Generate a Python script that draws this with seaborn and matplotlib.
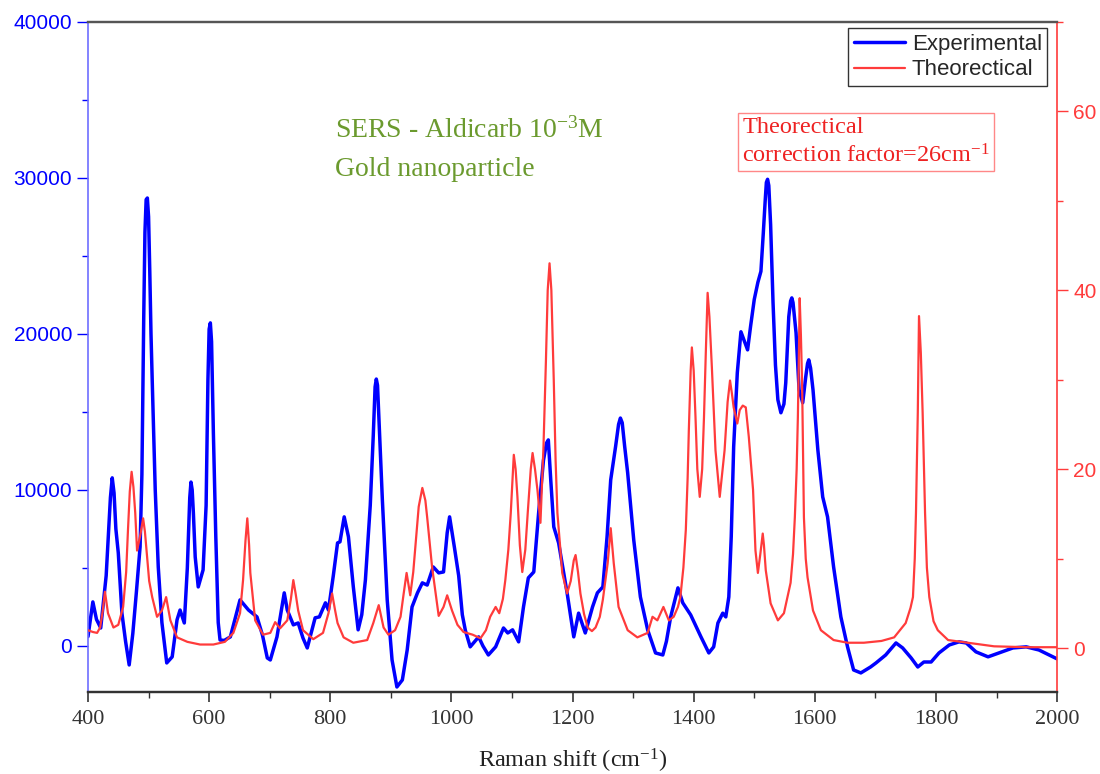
import matplotlib
matplotlib.use("Agg")
import matplotlib.pyplot as plt
from matplotlib.ticker import MultipleLocator
import pandas as pd
import seaborn as sns

# Experimental SERS spectrum (left axis)
exp_x = [400, 408, 414, 421, 430, 437, 440, 443, 446, 450, 456, 462, 468, 474, 480, 486, 489,
         492, 494, 496, 498, 500, 502, 504, 506, 511, 516, 522, 530, 539, 547, 552, 559, 564,
         568, 570, 572, 574, 577, 582, 590, 595, 598, 600, 602, 604, 607, 611, 615, 618, 625,
         635, 651, 665, 679, 688, 696, 701, 712, 724, 729, 739, 747, 755, 762, 775, 782, 792,
         797, 805, 812, 816, 823, 830, 838, 846, 852, 858, 866, 871, 874, 876, 878, 881, 886,
         894, 902, 910, 919, 927, 935, 944, 952, 960, 970, 979, 987, 993, 997, 1005, 1012,
         1018, 1023, 1031, 1045, 1052, 1061, 1073, 1086, 1093, 1101, 1111, 1119, 1127, 1136,
         1144, 1152, 1157, 1160, 1164, 1169, 1177, 1191, 1202, 1210, 1221, 1233, 1241, 1250,
         1257, 1263, 1271, 1276, 1279, 1282, 1286, 1291, 1301, 1312, 1324, 1337, 1349, 1355,
         1362, 1374, 1382, 1395, 1412, 1425, 1433, 1440, 1448, 1453, 1458, 1462, 1466, 1472,
         1478, 1484, 1489, 1494, 1500, 1506, 1511, 1515, 1518, 1520, 1522, 1524, 1527, 1531,
         1535, 1539, 1544, 1549, 1552, 1557, 1560, 1562, 1564, 1569, 1574, 1580, 1585, 1588,
         1590, 1593, 1597, 1605, 1613, 1621, 1631, 1643, 1654, 1664, 1676, 1692, 1701, 1717,
         1734, 1745, 1759, 1770, 1780, 1792, 1805, 1822, 1838, 1850, 1866, 1886, 1904, 1927,
         1949, 1970, 1993, 2000]
exp_y = [600, 2820, 1700, 1150, 4500, 9500, 10770, 9800, 7500, 5960, 2100, 300, -1220, 800,
         3500, 6350, 11000, 21000, 26500, 28600, 28700, 27500, 24000, 20000, 17050, 10000,
         5060, 1500, -1090, -700, 1670, 2300, 1470, 5000, 9500, 10500, 10000, 8500, 5700,
         3780, 4870, 9000, 17050, 20300, 20700, 19500, 13650, 7000, 1500, 380, 350, 580, 2950,
         2300, 1860, 700, -770, -900, 580, 3400, 2300, 1350, 1470, 500, -130, 1800, 1860,
         2760, 2300, 4500, 6600, 6670, 8270, 6990, 3800, 1030, 2000, 4230, 9000, 13500, 16600,
         17100, 16700, 14000, 9360, 2950, -900, -2630, -2180, -260, 2500, 3400, 4040, 3900,
         5060, 4680, 4740, 7240, 8270, 6300, 4500, 2000, 1000, -60, 580, 0, -580, -60, 1150,
         830, 1030, 260, 2500, 4360, 4740, 8530, 11900, 13000, 13200, 10640, 7630, 6600, 3400,
         580, 2100, 830, 2500, 3400, 3780, 7000, 10640, 12760, 14200, 14600, 14300, 12800,
         11090, 6800, 3140, 1030, -450, -580, 300, 1860, 3720, 2760, 1990, 580, -450, -60,
         1470, 2100, 1860, 3140, 7000, 12760, 17500, 20130, 19500, 18970, 20500, 22200, 23300,
         24000, 26500, 28500, 29700, 29900, 29500, 27000, 22000, 18000, 15770, 14940, 15500,
         16860, 21090, 22100, 22300, 22000, 20060, 16410, 15580, 17240, 18100, 18330, 17800,
         16410, 12560, 9550, 8270, 5060, 1860, -60, -1540, -1730, -1350, -1090, -580, 190,
         -130, -770, -1350, -1030, -1030, -450, 60, 260, 190, -380, -700, -450, -130, -60,
         -260, -700, -830]

# Theoretical spectrum (right axis)
theo_x = [400, 408, 415, 420, 424, 428, 433, 442, 450, 458, 463, 466, 469, 472, 475, 478,
          481, 486, 491, 494, 497, 501, 506, 514, 522, 529, 536, 547, 564, 585, 607, 626,
          640, 651, 656, 660, 663, 666, 668, 676, 689, 701, 709, 717, 729, 735, 739, 743,
          747, 755, 772, 788, 797, 803, 808, 812, 822, 838, 861, 871, 880, 888, 896, 907,
          916, 921, 926, 932, 937, 940, 946, 952, 957, 960, 968, 979, 987, 993, 1001, 1010,
          1020, 1035, 1048, 1057, 1064, 1073, 1079, 1085, 1089, 1094, 1098, 1103, 1106,
          1109, 1113, 1117, 1122, 1126, 1131, 1134, 1138, 1142, 1147, 1152, 1156, 1159,
          1162, 1165, 1169, 1172, 1175, 1183, 1191, 1197, 1202, 1205, 1209, 1213, 1219,
          1225, 1232, 1238, 1245, 1250, 1258, 1263, 1268, 1276, 1291, 1307, 1324, 1332,
          1340, 1350, 1359, 1367, 1374, 1378, 1383, 1387, 1390, 1392, 1395, 1397, 1400,
          1403, 1406, 1410, 1414, 1417, 1420, 1423, 1426, 1430, 1436, 1443, 1451, 1456,
          1460, 1463, 1466, 1472, 1476, 1481, 1486, 1491, 1498, 1502, 1506, 1510, 1514,
          1516, 1519, 1527, 1539, 1549, 1560, 1564, 1567, 1570, 1572, 1573.5, 1575, 1577,
          1579, 1582, 1585, 1588, 1597, 1610, 1631, 1654, 1681, 1710, 1731, 1750, 1758,
          1762, 1765, 1767, 1770, 1772, 1775, 1778, 1782, 1785, 1789, 1796, 1803, 1820,
          1853, 1896, 1950, 2000]
theo_y = [2.0, 1.8, 1.7, 2.3, 4.0, 6.3, 3.9, 2.3, 2.6, 4.6, 8.5, 13.2, 17.5, 19.7, 18.0,
          15.1, 10.9, 12.5, 14.5, 13.0, 10.6, 7.5, 5.7, 3.5, 4.2, 5.7, 3.1, 1.2, 0.7, 0.4,
          0.4, 0.7, 1.7, 3.9, 7.6, 12.0, 14.5, 11.5, 8.4, 3.1, 1.5, 1.7, 2.9, 2.2, 3.1, 5.5,
          7.6, 6.0, 4.2, 2.0, 1.0, 1.7, 3.9, 6.1, 4.2, 2.8, 1.2, 0.6, 0.9, 2.8, 4.8, 2.3,
          1.5, 2.0, 3.5, 6.0, 8.4, 5.9, 8.5, 10.9, 15.8, 17.9, 16.5, 14.6, 9.1, 3.6, 4.6,
          5.9, 4.2, 2.6, 1.8, 1.5, 1.1, 2.0, 3.5, 4.6, 3.9, 5.5, 7.6, 11.0, 15.1, 21.6,
          20.0, 16.9, 11.5, 8.5, 11.0, 15.1, 20.0, 21.8, 20.0, 17.7, 14.0, 22.5, 32.0,
          40.0, 43.0, 40.0, 29.9, 21.0, 15.1, 8.4, 6.1, 7.5, 9.8, 10.4, 8.5, 6.1, 3.8, 2.3,
          1.9, 2.3, 3.5, 5.4, 9.5, 13.4, 9.5, 4.6, 2.0, 1.2, 1.7, 3.5, 3.1, 4.6, 3.1, 3.5,
          4.6, 5.7, 9.0, 13.2, 19.0, 24.4, 31.0, 33.6, 31.0, 25.8, 20.0, 16.9, 20.0, 25.8,
          33.0, 39.7, 37.0, 31.4, 22.1, 16.9, 22.1, 27.5, 29.9, 28.5, 26.9, 25.1, 26.6,
          27.1, 26.9, 23.6, 17.7, 10.9, 8.4, 10.5, 12.8, 11.5, 8.7, 5.0, 3.1, 3.9, 7.3,
          10.5, 14.6, 20.0, 25.8, 32.0, 39.1, 35.0, 29.6, 14.6, 10.0, 7.9, 4.2, 2.0, 0.9,
          0.6, 0.6, 0.8, 1.2, 2.8, 4.5, 5.7, 10.0, 15.1, 26.3, 37.1, 33.0, 26.3, 15.1, 9.0,
          5.7, 3.0, 2.0, 0.9, 0.6, 0.2, 0.1, 0.1]

exp_df = pd.DataFrame({"shift": exp_x, "intensity": exp_y})
theo_df = pd.DataFrame({"shift": theo_x, "intensity": theo_y})

sns.set_style("ticks")
plt.rcParams["font.family"] = ["Liberation Sans", "DejaVu Sans"]
plt.rcParams["mathtext.fontset"] = "custom"
plt.rcParams["mathtext.rm"] = "Liberation Serif"
plt.rcParams["mathtext.it"] = "Liberation Serif:italic"

blue = "#0000ff"
red = "#ff3b3b"
serif = ["Liberation Serif", "DejaVu Serif"]

fig = plt.figure(figsize=(11, 7.74), dpi=100)
ax = fig.add_axes([0.08, 0.106, 0.881, 0.866])
ax2 = ax.twinx()

sns.lineplot(data=exp_df, x="shift", y="intensity", ax=ax, color=blue, lw=2.5,
             estimator=None, sort=False, legend=False)
sns.lineplot(data=theo_df, x="shift", y="intensity", ax=ax2, color=red, lw=1.6,
             estimator=None, sort=False, legend=False)

# axes ranges and ticks
ax.set_xlim(400, 2000)
ax.set_ylim(-2950, 40000)
ax2.set_ylim(-4.9, 70)
ax.xaxis.set_major_locator(MultipleLocator(200))
ax.xaxis.set_minor_locator(MultipleLocator(100))
ax.yaxis.set_major_locator(MultipleLocator(10000))
ax.yaxis.set_minor_locator(MultipleLocator(5000))
ax2.yaxis.set_major_locator(MultipleLocator(20))
ax2.yaxis.set_minor_locator(MultipleLocator(10))

ax.tick_params(axis="x", which="major", direction="out", length=7, width=1.2,
               colors="#333333", labelsize=16, pad=6)
ax.tick_params(axis="x", which="minor", direction="out", length=4, width=1, colors="#333333")
ax.tick_params(axis="y", which="major", direction="out", length=8, width=1,
               colors=blue, labelsize=15)
ax.tick_params(axis="y", which="minor", direction="out", length=4, width=1, colors=blue)
ax2.tick_params(axis="y", which="major", direction="out", length=8, width=1,
                colors=red, labelsize=15)
ax2.tick_params(axis="y", which="minor", direction="out", length=4, width=1, colors=red)
for lab in ax.get_xticklabels():
    lab.set_fontfamily(serif)

# spines
for a in (ax, ax2):
    a.spines["top"].set_color("#555555")
    a.spines["bottom"].set_color("#333333")
    a.spines["top"].set_linewidth(1.6)
    a.spines["bottom"].set_linewidth(1.6)
    a.spines["top"].set_visible(True)
    a.spines["right"].set_visible(True)
ax.spines["left"].set_color("#6e6eff")
ax.spines["left"].set_linewidth(1.2)
ax2.spines["left"].set_visible(False)
ax2.spines["right"].set_color(red)
ax2.spines["right"].set_linewidth(1.2)
ax.spines["right"].set_visible(False)

ax.set_xlabel("Raman shift (cm$^{-1}$)", fontsize=17.5, fontfamily=serif, color="#222222",
              labelpad=13)
ax.set_ylabel("")
ax2.set_ylabel("")

# annotations
green = "#6b9a2e"
ax.text(0.255, 0.838, "SERS - Aldicarb 10$^{-3}$M", transform=ax.transAxes, color=green,
        fontsize=20, fontfamily=serif, va="center", ha="left")
ax.text(0.255, 0.78, "Gold nanoparticle", transform=ax.transAxes, color=green,
        fontsize=20, fontfamily=serif, va="center", ha="left")
ax.text(0.675, 0.82, "Theorectical\ncorrection factor=26cm$^{-1}$", transform=ax.transAxes,
        color="#ee2222", fontsize=17.5, fontfamily=serif, va="center", ha="left",
        linespacing=1.35,
        bbox=dict(boxstyle="square,pad=0.15", facecolor="white", edgecolor="#ff8888", lw=1))

# legend with both series
handles = [ax.get_lines()[0], ax2.get_lines()[0]]
leg = ax2.legend(handles, ["Experimental", "Theorectical"], loc="upper right",
                 bbox_to_anchor=(0.99, 0.99), fontsize=16, frameon=True, fancybox=False,
                 handlelength=2.3, borderpad=0.25, labelspacing=0.2, handletextpad=0.3,
                 borderaxespad=0)
leg.get_frame().set_edgecolor("black")
leg.get_frame().set_linewidth(1.0)

fig.savefig("out.png", dpi=100)
